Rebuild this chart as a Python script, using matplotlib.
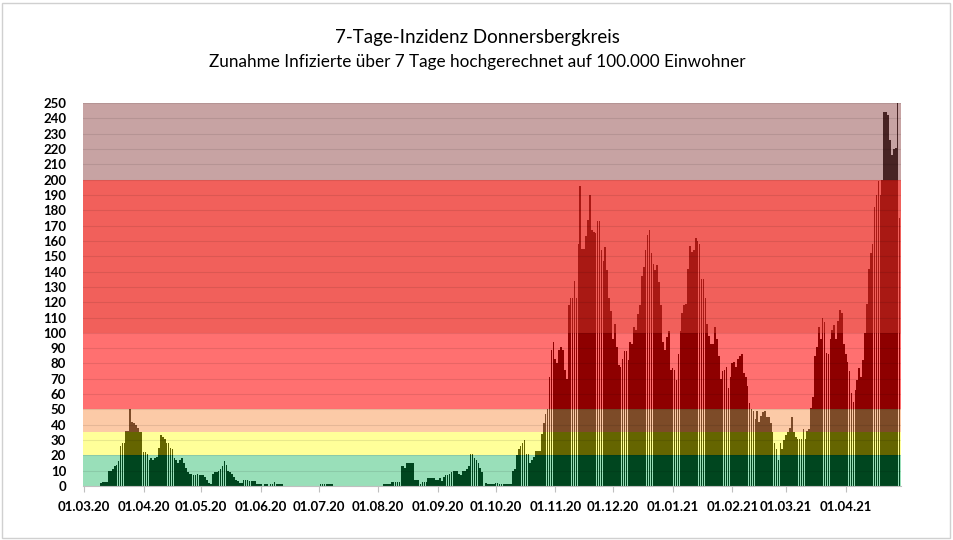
import matplotlib.pyplot as plt
import matplotlib.dates as mdates
import numpy as np
import pandas as pd

plt.rcParams['font.family'] = ['Lato', 'DejaVu Sans']

# 7-Tage-Inzidenz, one value per day from 01.03.2020
mar20 = [0, 0, 0, 0, 0, 0, 0, 0, 0, 2, 2.5, 2.5, 2.5, 10, 10, 11, 13, 14, 16, 26,
         28, 28, 36, 36, 50, 42, 41, 40, 38, 35, 35]
apr20 = [22, 22, 21, 17, 18, 17, 18, 19, 25, 33, 32, 31, 28, 28, 25, 24, 18, 17, 15, 17,
         18, 15, 12, 9, 8, 8, 7, 7, 8, 7]
may20 = [7, 7, 6, 4, 2, 1, 8, 9, 9, 10, 11, 13, 16, 14, 10, 9, 8, 6, 4, 3,
         2, 2, 4, 4, 4, 3, 3, 3, 3, 1.5, 1.5]
jun20 = [1, 0, 1.5, 1.5, 0, 1.5, 1.5, 2.5, 1.5, 1.5, 1.5, 1.5, 0, 0, 0, 0, 0, 0, 0, 0,
         0, 0, 0, 0, 0, 0, 0, 0, 0, 0]
jul20 = [0, 1.5, 1.5, 1.5, 1.5, 1.5, 1.5, 1.5, 0, 0, 0, 0, 0, 0, 0, 0, 0, 0, 0, 0,
         0, 0, 0, 0, 0, 0, 0, 0, 0, 0, 0]
aug20 = [0, 0, 0, 1.5, 1.5, 1.5, 1.5, 2.5, 2.5, 2.5, 2.5, 2.5, 13, 13, 12, 15, 15, 15, 15, 4,
         4, 4, 1.5, 2.5, 2.5, 2.5, 5.5, 5.5, 5.5, 5.5, 4]
sep20 = [4, 5.5, 3, 6, 7, 7, 8, 9, 10, 10, 10, 8, 7, 10, 10, 11, 13, 21, 21, 18,
         17, 15, 12, 9, 0, 2, 1, 1, 1, 1]
oct20 = [2, 2, 1, 1, 1, 1, 1, 1, 1, 10, 11, 20, 24, 26, 28, 30, 21, 21, 15, 17,
         19, 23, 23, 23, 34, 41, 47, 50, 71, 89, 94]
nov20 = [83, 80, 89, 91, 89, 76, 70, 118, 123, 123, 134, 123, 158, 196, 155, 155, 163, 174, 190, 167,
         166, 165, 173, 173, 154, 147, 156, 141, 123, 114]
dec20 = [96, 106, 91, 79, 78, 83, 88, 88, 82, 94, 93, 104, 102, 112, 118, 137, 143, 154, 164, 167,
         152, 145, 141, 144, 133, 118, 94, 89, 97, 101, 76]
jan21 = [77, 76, 69, 86, 101, 113, 118, 119, 142, 157, 153, 154, 162, 160, 158, 135, 135, 123, 106, 98,
         93, 93, 104, 96, 85, 70, 75, 76, 78, 64, 71]
feb21 = [80, 81, 78, 83, 85, 86, 74, 71, 65, 54, 50, 49, 44, 49, 42, 46, 48, 49, 45, 45,
         41, 35, 28, 24, 17, 28, 24, 30]
mar21 = [33, 35, 38, 45, 35, 32, 31, 31, 31, 37, 31, 36, 37, 51, 58, 85, 91, 104, 96, 110,
         107, 87, 86, 96, 102, 105, 96, 108, 115, 113, 93]
apr21 = [86, 81, 75, 61, 55, 63, 69, 77, 71, 82, 100, 119, 142, 152, 158, 182, 190, 199, 190, 200,
         244, 244, 242, 226, 216, 220, 221, 250, 175]

values = np.concatenate([mar20, apr20, may20, jun20, jul20, aug20, sep20, oct20,
                         nov20, dec20, jan21, feb21, mar21, apr21])
dates = pd.date_range('2020-03-01', periods=len(values), freq='D')

# warning levels
band_edges = [0, 20, 35, 50, 100, 200, 250]
band_colors = ['#00b050', '#ffff00', '#fa9650', '#ff0000', '#ec231c', '#914949']
band_alphas = [0.4, 0.4, 0.5, 0.56, 0.72, 0.5]

fig = plt.figure(figsize=(9.54, 5.4), dpi=100)
ax = fig.add_axes([0.087, 0.1, 0.857, 0.709])

ax.bar(dates, values, width=0.84, color='black', linewidth=0, zorder=1)

for lo, hi, c, a in zip(band_edges[:-1], band_edges[1:], band_colors, band_alphas):
    ax.axhspan(lo, hi, color=c, alpha=a, linewidth=0, zorder=2)

for y in range(10, 251, 10):
    ax.axhline(y, color='black', alpha=0.09, linewidth=0.8, zorder=3)

ax.set_ylim(0, 250)
ax.set_xlim(dates[0] - pd.Timedelta(hours=12), dates[-1] + pd.Timedelta(hours=12))
ax.set_yticks(range(0, 251, 10))
ax.xaxis.set_major_locator(mdates.MonthLocator())
ax.xaxis.set_major_formatter(mdates.DateFormatter('%d.%m.%y'))

for s in ['top', 'right', 'left']:
    ax.spines[s].set_visible(False)
ax.spines['bottom'].set_color('#bfbfbf')
ax.tick_params(axis='y', length=0, pad=12, labelsize=9.5)
ax.tick_params(axis='x', length=4, color='#bfbfbf', pad=7, labelsize=9.5)
for lab in ax.get_xticklabels() + ax.get_yticklabels():
    lab.set_fontweight('bold')

fig.text(0.5, 1 - 37 / 540, '7-Tage-Inzidenz Donnersbergkreis',
         ha='center', va='center', fontsize=13.5)
fig.text(0.5, 1 - 62 / 540, 'Zunahme Infizierte über 7 Tage hochgerechnet auf 100.000 Einwohner',
         ha='center', va='center', fontsize=12.3)

fig.patches.append(plt.Rectangle((0.002, 0.004), 0.994, 0.99, transform=fig.transFigure,
                                 fill=False, edgecolor='#d0d0d0', linewidth=1))

fig.savefig('out.png', dpi=100)
